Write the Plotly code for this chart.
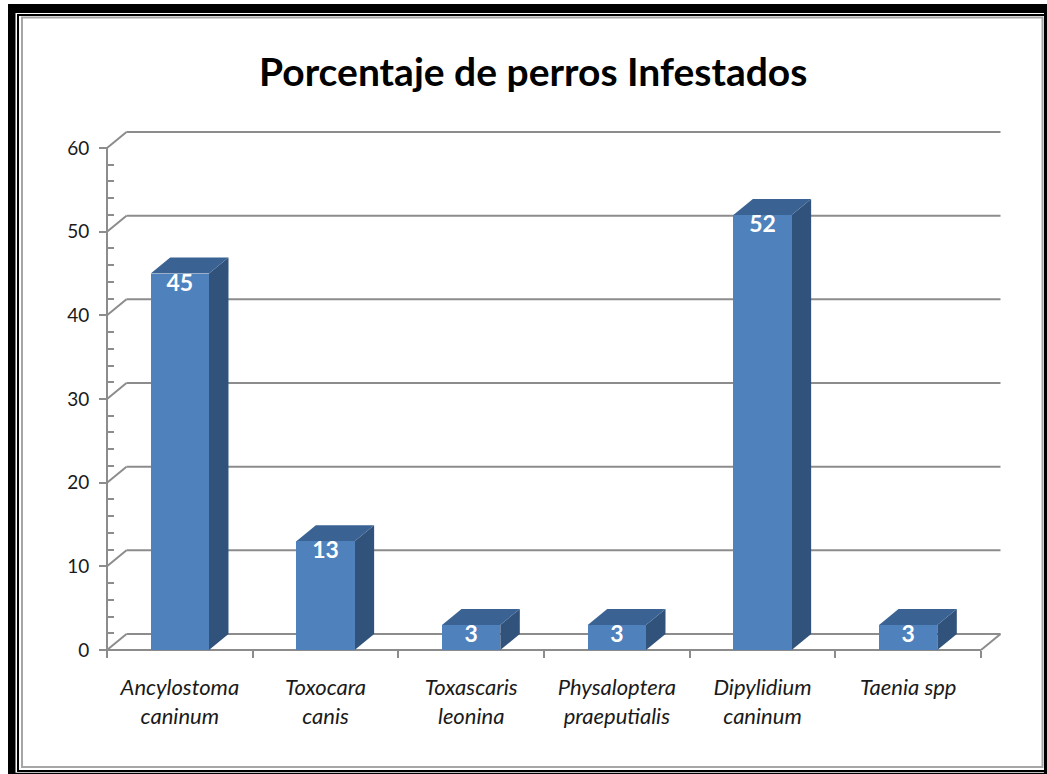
import plotly.graph_objects as go

# Chart data
categories = [
    "Ancylostoma<br>caninum",
    "Toxocara<br>canis",
    "Toxascaris<br>leonina",
    "Physaloptera<br>praeputialis",
    "Dipylidium<br>caninum",
    "Taenia spp",
]
values = [45, 13, 3, 3, 52, 3]
y_ticks = [0, 10, 20, 30, 40, 50, 60]
title_text = "Porcentaje de perros Infestados"

# Canvas and plot geometry (pixels)
W, H = 1047, 774
X_LEFT, X_RIGHT = 107, 981        # front face of the plot box
Y_BOTTOM, Y_TOP = 650, 148        # front y=0 and y=60
DEPTH_PX_X, DEPTH_PX_Y = 19.5, 16  # 3-D depth of the walls and bars
PAD = 4

n = len(categories)
y_max = y_ticks[-1]
cat_px = (X_RIGHT - X_LEFT) / n
unit_px = (Y_BOTTOM - Y_TOP) / y_max
dx = DEPTH_PX_X / cat_px          # depth in category units
dy = DEPTH_PX_Y / unit_px         # depth in value units
half_w = 0.2                      # half bar width in category units

# minor ticks every 2 units, between the major ones
minor_ticks = [v for v in range(0, y_max + 1, 2) if v % 10]

FRONT = "#4F81BD"
TOP = "#3A6394"
SIDE = "#30527B"
GRID = "#8C8C8C"


def px(x):
    return x / W


def py(y):
    return 1 - y / H


shapes = []

# Page frame
shapes.append(dict(type="rect", xref="paper", yref="paper", layer="below",
                   x0=px(8), x1=px(1047), y0=py(774), y1=py(4),
                   fillcolor="black", line=dict(width=0)))
shapes.append(dict(type="rect", xref="paper", yref="paper", layer="below",
                   x0=px(15.5), x1=px(1044), y0=py(772.7), y1=py(13),
                   fillcolor="white", line=dict(width=0)))
shapes.append(dict(type="rect", xref="paper", yref="paper", layer="below",
                   x0=px(18), x1=px(1045), y0=py(771), y1=py(15),
                   fillcolor="rgba(0,0,0,0)", line=dict(color="black", width=2)))
shapes.append(dict(type="rect", xref="paper", yref="paper", layer="below",
                   x0=px(22), x1=px(1042.5), y0=py(767), y1=py(17.5),
                   fillcolor="white", line=dict(color="#A6A6A6", width=2)))

line_style = dict(color=GRID, width=2)
x0, x1 = -0.5, n - 0.5

# Back-wall gridlines with their diagonal links to the front axis
for v in y_ticks:
    shapes.append(dict(type="line", xref="x", yref="y", layer="below",
                       x0=x0 + dx, x1=x1 + dx, y0=v + dy, y1=v + dy, line=line_style))
    shapes.append(dict(type="line", xref="x", yref="y", layer="below",
                       x0=x0, x1=x0 + dx, y0=v, y1=v + dy, line=line_style))

# Floor right edge and front axes
shapes.append(dict(type="line", xref="x", yref="y", layer="below",
                   x0=x1, x1=x1 + dx, y0=0, y1=dy, line=line_style))
shapes.append(dict(type="line", xref="x", yref="y", layer="below",
                   x0=x0, x1=x0, y0=0, y1=y_max, line=line_style))
shapes.append(dict(type="line", xref="x", yref="y", layer="below",
                   x0=x0, x1=x1, y0=0, y1=0, line=line_style))

# Top and side faces of each bar
for i, v in enumerate(values):
    l, r = i - half_w, i + half_w
    top = f"M {l},{v} L {r},{v} L {r + dx},{v + dy} L {l + dx},{v + dy} Z"
    side = f"M {r},0 L {r + dx},{dy} L {r + dx},{v + dy} L {r},{v} Z"
    shapes.append(dict(type="path", xref="x", yref="y", layer="below", path=side,
                       fillcolor=SIDE, line=dict(width=0)))
    shapes.append(dict(type="path", xref="x", yref="y", layer="below", path=top,
                       fillcolor=TOP, line=dict(width=0)))

fig = go.Figure()

fig.add_trace(go.Bar(
    x=categories, y=values, width=2 * half_w,
    marker=dict(color=FRONT, line=dict(width=0)),
    hoverinfo="x+y", showlegend=False,
))

fig.add_trace(go.Scatter(
    x=categories, y=values, mode="text",
    text=[str(v) for v in values], textposition="bottom center",
    textfont=dict(family="Lato", size=23, color="white", weight="bold"),
    cliponaxis=False, hoverinfo="skip", showlegend=False,
))

fig.add_annotation(
    text=title_text, xref="paper", yref="paper", x=px(533), y=py(71),
    xanchor="center", yanchor="middle", showarrow=False,
    font=dict(family="Lato", size=39, color="black", weight="bold"),
)

fig.update_layout(
    width=W, height=H,
    margin=dict(l=0, r=0, t=0, b=0),
    paper_bgcolor="white", plot_bgcolor="rgba(0,0,0,0)",
    shapes=shapes, bargap=0,
    xaxis=dict(
        type="category",
        domain=[px(X_LEFT - PAD), px(X_RIGHT + DEPTH_PX_X + PAD)],
        range=[x0 - PAD / cat_px, x1 + dx + PAD / cat_px],
        anchor="free", position=py(Y_BOTTOM),
        tickson="boundaries", ticks="outside", ticklen=7, tickwidth=2, tickcolor=GRID,
        ticklabelstandoff=22,
        tickfont=dict(family="Lato", size=22, color="#1a1a1a", style="italic"),
        showgrid=False, showline=False, zeroline=False, automargin=False,
    ),
    yaxis=dict(
        domain=[py(Y_BOTTOM + PAD), py(Y_TOP - DEPTH_PX_Y - PAD)],
        range=[-PAD / unit_px, y_max + dy + PAD / unit_px],
        anchor="free", position=px(X_LEFT),
        tickmode="array", tickvals=y_ticks,
        ticks="outside", ticklen=8, tickwidth=2, tickcolor=GRID,
        ticklabelstandoff=6,
        tickfont=dict(family="Lato", size=19, color="#1a1a1a"),
        minor=dict(tickmode="array", tickvals=minor_ticks, ticks="inside",
                   ticklen=6, tickwidth=2, tickcolor=GRID),
        showgrid=False, showline=False, zeroline=False, automargin=False,
    ),
)

fig.write_html("out.html")
